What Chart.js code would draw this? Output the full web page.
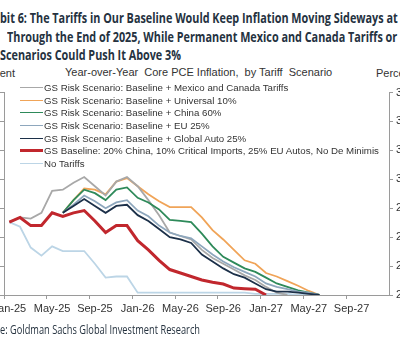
<!DOCTYPE html>
<html>
<head>
<meta charset="utf-8">
<script src="https://cdn.jsdelivr.net/npm/chart.js@4.4.1/dist/chart.umd.min.js"></script>
<style>
  body { margin: 0; width: 400px; height: 341px; overflow: hidden; background: #fff; position: relative;
         font-family: "Liberation Sans", Arial, sans-serif; color: #333; }
  .hl { position: absolute; white-space: nowrap; font-family: "Open Sans", sans-serif;
        font-weight: bold; font-size: 14px; line-height: 15px; color: #25323f; transform-origin: 0 0; }
  .txt { position: absolute; white-space: pre; font-size: 11px; line-height: 12px; color: #333; }
  #wrap { position: absolute; left: -40px; top: 80px; width: 480px; height: 261px; }
  #legend { position: absolute; left: 20px; top: 81px; z-index: 2; }
  .row { display: flex; align-items: center; height: 12.7px; font-size: 9.7px; white-space: nowrap; color: #333; }
  .sample { display: inline-block; width: 23px; margin-right: 1px; }
  .foot { position: absolute; white-space: nowrap; font-family: "Open Sans", sans-serif;
          font-size: 12.5px; line-height: 14px; color: #25323f; transform-origin: 0 0; }
</style>
</head>
<body>
<div class="hl" id="h1" style="left:0; top:10px;">bit 6: The Tariffs in Our Baseline Would Keep Inflation Moving Sideways at</div>
<div class="hl" id="h2" style="left:7px; top:29px;">Through the End of 2025, While Permanent Mexico and Canada Tariffs or Other</div>
<div class="hl" id="h3" style="left:0; top:47px;">Scenarios Could Push It Above 3%</div>

<div class="txt" style="left:65px; top:66px;">Year-over-Year  Core PCE Inflation,  by Tariff  Scenario</div>
<div class="txt" style="right:385px; top:67px;">Percent</div>
<div class="txt" style="left:376px; top:67px;">Percent</div>

<div id="wrap"><canvas id="chart"></canvas></div>
<div id="legend"></div>

<div class="foot" id="src" style="left:0; top:323px;">e: Goldman Sachs Global Investment Research</div>

<script>
// Месяцы по оси X
const months = [
  "Jan-25","Feb-25","Mar-25","Apr-25","May-25","Jun-25","Jul-25","Aug-25","Sep-25","Oct-25","Nov-25","Dec-25",
  "Jan-26","Feb-26","Mar-26","Apr-26","May-26","Jun-26","Jul-26","Aug-26","Sep-26","Oct-26","Nov-26","Dec-26",
  "Jan-27","Feb-27","Mar-27","Apr-27","May-27","Jun-27","Jul-27","Aug-27","Sep-27","Oct-27","Nov-27","Dec-27"
];

// Core PCE, % г/г, по сценариям
const mexicoCanada = [2.63, 2.67, 2.66, 2.71, 2.90, 2.91, 2.97, 3.02, 2.94, 2.86, 2.98, 3.02,
  2.94, 2.82, 2.69, 2.54, 2.51, 2.48, 2.39, 2.32, 2.27, 2.22, 2.17, 2.13,
  2.07, 2.02, 2.00, null, null, null, null, null, null, null, null, null];
const universal10 = [null, null, null, null, null, 2.71, 2.82, 2.92, 2.91, 2.87, 2.98, 3.01,
  2.94, 2.87, 2.81, 2.76, 2.76, 2.76, 2.67, 2.56, 2.48, 2.39, 2.30, 2.27,
  2.19, 2.16, 2.12, 2.08, 2.035, 2.00, null, null, null, null, null, null];
const china60 = [null, null, null, null, null, 2.71, 2.82, 2.91, 2.88, 2.82, 2.91, 2.93,
  2.84, 2.80, 2.74, 2.65, 2.64, 2.63, 2.53, 2.42, 2.33, 2.28, 2.23, 2.20,
  2.15, 2.10, 2.07, 2.04, 2.02, 2.00, null, null, null, null, null, null];
const eu25 = [null, null, null, null, null, 2.71, 2.78, 2.86, 2.81, 2.75, 2.80, 2.82,
  2.73, 2.68, 2.60, 2.54, 2.51, 2.49, 2.42, 2.35, 2.29, 2.24, 2.20, 2.16,
  2.10, 2.07, 2.05, 2.03, 2.02, 2.00, null, null, null, null, null, null];
const globalAuto25 = [null, null, null, null, null, 2.71, 2.77, 2.83, 2.77, 2.71, 2.77, 2.78,
  2.69, 2.64, 2.57, 2.50, 2.48, 2.45, 2.35, 2.29, 2.23, 2.18, 2.15, 2.10,
  2.05, 2.03, 2.03, 2.02, 2.01, 2.00, null, null, null, null, null, null];
const baseline = [2.63, 2.67, 2.60, 2.60, 2.71, 2.68, 2.71, 2.73, 2.64, 2.54, 2.60, 2.60,
  2.47, 2.39, 2.30, 2.22, 2.19, 2.16, 2.13, 2.11, 2.095, 2.06, 2.055, 2.05,
  2.00, null, null, null, null, null, null, null, null, null, null, null];
const noTariffs = [2.63, 2.59, 2.41, 2.34, 2.42, 2.38, 2.38, 2.38, 2.27, 2.15, 2.16, 2.16,
  2.02, 2.02, 2.02, 2.02, 2.02, 2.02, 2.02, 2.02, 2.02, 2.02, 2.02, 2.01,
  2.01, 2.01, 2.01, 2.00, 2.00, 2.00, null, null, null, null, null, null];

// Деления оси Y
const yTicks = [2.00, 2.25, 2.50, 2.75, 3.00, 3.25, 3.50, 3.75];

const series = [
  { label: "GS Risk Scenario: Baseline + Mexico and Canada Tariffs", data: mexicoCanada, color: "#a8a8a8", width: 1.8, order: 5 },
  { label: "GS Risk Scenario: Baseline + Universal 10%", data: universal10, color: "#f0a458", width: 1.8, order: 6 },
  { label: "GS Risk Scenario: Baseline + China 60%", data: china60, color: "#2e8a5a", width: 1.8, order: 4 },
  { label: "GS Risk Scenario: Baseline + EU 25%", data: eu25, color: "#8ea7bd", width: 1.8, order: 3 },
  { label: "GS Risk Scenario: Baseline + Global Auto 25%", data: globalAuto25, color: "#1c3049", width: 1.8, order: 2 },
  { label: "GS Baseline: 20% China, 10% Critical Imports, 25% EU Autos, No De Minimis", data: baseline, color: "#c1272d", width: 3, order: 0 },
  { label: "No Tariffs", data: noTariffs, color: "#bcd5e6", width: 1.8, order: 7 },
];

const axisColor = "#9a9a9a";

// Сжатие текста по ширине (узкий шрифт заголовка)
function squeeze(ids, refId, target) {
  const ref = document.getElementById(refId);
  const k = target / ref.getBoundingClientRect().width;
  ids.forEach(id => { document.getElementById(id).style.transform = `scaleX(${k})`; });
}

window.onload = function () {
  squeeze(["h1", "h2", "h3"], "h3", 181);
  squeeze(["src"], "src", 200);

  const ctx = document.getElementById("chart").getContext("2d");
  const chart = new Chart(ctx, {
    type: "line",
    data: {
      labels: months,
      datasets: series.map(s => ({
        label: s.label,
        data: s.data,
        borderColor: s.color,
        backgroundColor: s.color,
        borderWidth: s.width,
        pointRadius: 0,
        tension: 0,
        order: s.order,
        yAxisID: "y",
      })),
    },
    options: {
      responsive: true,
      maintainAspectRatio: false,
      animation: false,
      layout: { padding: { top: 12.5, left: 0, right: 0, bottom: 0 } },
      plugins: { legend: { display: false }, tooltip: { enabled: false } },
      scales: {
        x: {
          type: "category",
          offset: true,
          afterFit: s => { s.height = 46; },
          grid: {
            offset: true,
            drawOnChartArea: false,
            tickLength: 4,
            color: c => (c.index % 4 === 0 ? axisColor : "rgba(0,0,0,0)"),
          },
          border: { color: axisColor },
          ticks: {
            autoSkip: false,
            maxRotation: 0,
            padding: 3,
            color: "#333",
            font: { family: "Liberation Sans", size: 11 },
            callback: function (v, i) { return i % 4 === 0 ? this.getLabelForValue(v) : ""; },
          },
        },
        y: {
          position: "left",
          min: yTicks[0],
          max: yTicks[yTicks.length - 1],
          afterFit: s => { s.width = 44; },
          afterBuildTicks: s => { s.ticks = yTicks.map(v => ({ value: v })); },
          grid: { drawOnChartArea: false, tickLength: 4, color: axisColor },
          border: { color: axisColor },
          ticks: { color: "#333", font: { family: "Liberation Sans", size: 11 }, callback: v => v.toFixed(2) },
        },
        y2: {
          position: "right",
          min: yTicks[0],
          max: yTicks[yTicks.length - 1],
          afterFit: s => { s.width = 51; },
          afterBuildTicks: s => { s.ticks = yTicks.map(v => ({ value: v })); },
          grid: { drawOnChartArea: false, tickLength: 4, color: axisColor },
          border: { color: axisColor },
          ticks: { color: "#333", padding: 3, font: { family: "Liberation Sans", size: 11 }, callback: v => v.toFixed(2) },
        },
      },
    },
  });

  // Легенда
  const legend = document.getElementById("legend");
  chart.data.datasets.forEach(ds => {
    const row = document.createElement("div");
    row.className = "row";
    const sample = document.createElement("span");
    sample.className = "sample";
    sample.style.borderTop = `${ds.borderWidth}px solid ${ds.borderColor}`;
    const text = document.createElement("span");
    text.textContent = ds.label;
    row.appendChild(sample);
    row.appendChild(text);
    legend.appendChild(row);
  });
};
</script>
</body>
</html>
